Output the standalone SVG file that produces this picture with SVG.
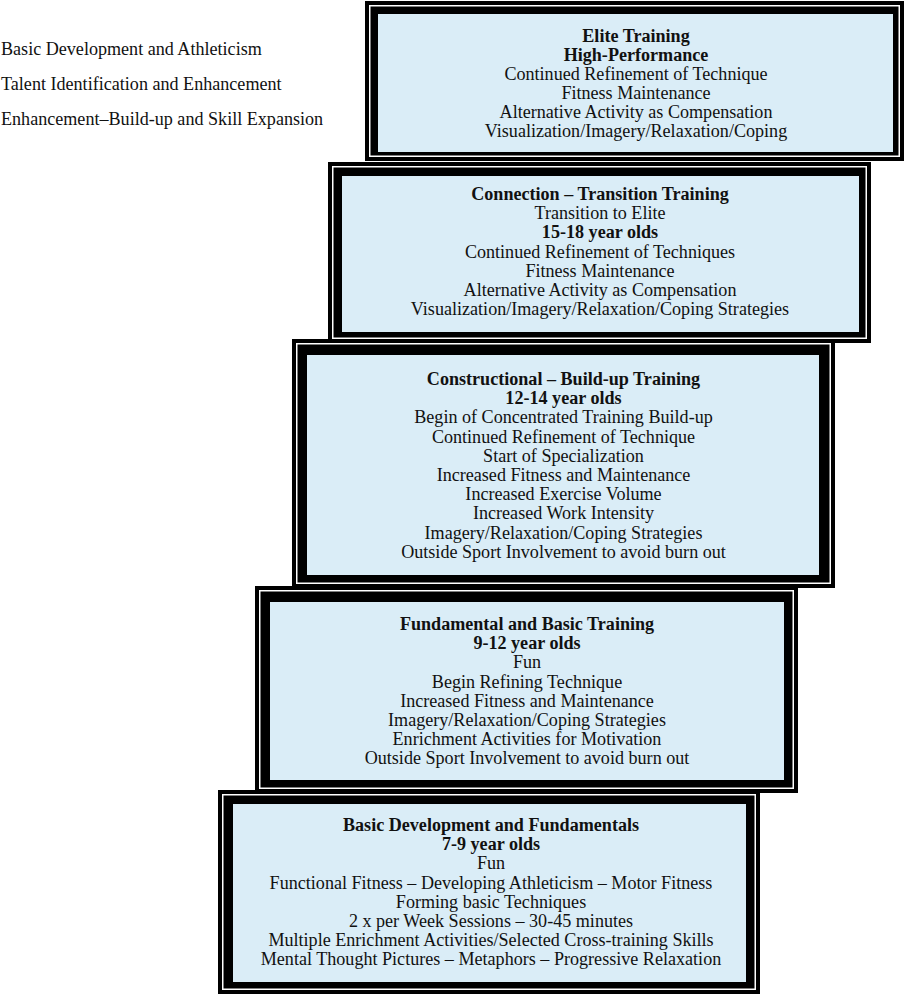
<svg xmlns="http://www.w3.org/2000/svg" width="907" height="996" viewBox="0 0 907 996">
<style>
text{font-family:"Liberation Serif","Times New Roman",serif;font-size:18.1px;fill:#111;}
.c{text-anchor:middle;}
.b{font-weight:bold;}
.o{fill:#000;}
.w{fill:#fff;}
.f{fill:#daedf7;}
</style>
<rect width="907" height="996" fill="#fff"/>
<g id="labels">
<text x="1" y="54.5">Basic Development and Athleticism</text>
<text x="1" y="89.5">Talent Identification and Enhancement</text>
<text x="1" y="124.5">Enhancement–Build-up and Skill Expansion</text>
</g>
<g id="elite">
<rect class="o" x="365" y="1" width="539" height="160"/>
<rect class="w" x="369" y="5" width="531" height="152"/>
<rect class="o" x="370.5" y="6.5" width="528" height="149"/>
<rect class="f" x="378" y="14" width="515" height="138"/>
<text class="c b" x="636" y="41.5">Elite Training</text>
<text class="c b" x="636" y="60.5">High-Performance</text>
<text class="c" x="636" y="79.7">Continued Refinement of Technique</text>
<text class="c" x="636" y="98.8">Fitness Maintenance</text>
<text class="c" x="636" y="118">Alternative Activity as Compensation</text>
<text class="c" x="636" y="137">Visualization/Imagery/Relaxation/Coping</text>
</g>
<g id="connection">
<rect class="o" x="328" y="162" width="543" height="181"/>
<rect class="w" x="332" y="166" width="535" height="173"/>
<rect class="o" x="333.5" y="167.5" width="532" height="170"/>
<rect class="f" x="342" y="176" width="517" height="156"/>
<text class="c b" x="600" y="200">Connection – Transition Training</text>
<text class="c" x="600" y="219.2">Transition to Elite</text>
<text class="c b" x="600" y="238.4">15-18 year olds</text>
<text class="c" x="600" y="257.6">Continued Refinement of Techniques</text>
<text class="c" x="600" y="276.8">Fitness Maintenance</text>
<text class="c" x="600" y="296">Alternative Activity as Compensation</text>
<text class="c" x="600" y="315.2">Visualization/Imagery/Relaxation/Coping Strategies</text>
</g>
<g id="constructional">
<rect class="o" x="292" y="339" width="543" height="249"/>
<rect class="w" x="296" y="343" width="535" height="241"/>
<rect class="o" x="297.5" y="344.5" width="532" height="238"/>
<rect class="f" x="307" y="355" width="512" height="220"/>
<text class="c b" x="563.5" y="385">Constructional – Build-up Training</text>
<text class="c b" x="563.5" y="404.2">12-14 year olds</text>
<text class="c" x="563.5" y="423.4">Begin of Concentrated Training Build-up</text>
<text class="c" x="563.5" y="442.6">Continued Refinement of Technique</text>
<text class="c" x="563.5" y="461.8">Start of Specialization</text>
<text class="c" x="563.5" y="481">Increased Fitness and Maintenance</text>
<text class="c" x="563.5" y="500.2">Increased Exercise Volume</text>
<text class="c" x="563.5" y="519.4">Increased Work Intensity</text>
<text class="c" x="563.5" y="538.6">Imagery/Relaxation/Coping Strategies</text>
<text class="c" x="563.5" y="557.8">Outside Sport Involvement to avoid burn out</text>
</g>
<g id="fundamental">
<rect class="o" x="255" y="586" width="543" height="207"/>
<rect class="w" x="259" y="590" width="535" height="199"/>
<rect class="o" x="260.5" y="591.5" width="532" height="196"/>
<rect class="f" x="270" y="602" width="514" height="178"/>
<text class="c b" x="527" y="630">Fundamental and Basic Training</text>
<text class="c b" x="527" y="649.2">9-12 year olds</text>
<text class="c" x="527" y="668.4">Fun</text>
<text class="c" x="527" y="687.6">Begin Refining Technique</text>
<text class="c" x="527" y="706.8">Increased Fitness and Maintenance</text>
<text class="c" x="527" y="726">Imagery/Relaxation/Coping Strategies</text>
<text class="c" x="527" y="745.2">Enrichment Activities for Motivation</text>
<text class="c" x="527" y="764.4">Outside Sport Involvement to avoid burn out</text>
</g>
<g id="basic">
<rect class="o" x="218" y="790" width="542" height="204"/>
<rect class="w" x="222" y="794" width="534" height="196"/>
<rect class="o" x="223.5" y="795.5" width="531" height="193"/>
<rect class="f" x="233" y="804" width="513" height="178"/>
<text class="c b" x="491" y="831">Basic Development and Fundamentals</text>
<text class="c b" x="491" y="850.2">7-9 year olds</text>
<text class="c" x="491" y="869.4">Fun</text>
<text class="c" x="491" y="888.6">Functional Fitness – Developing Athleticism – Motor Fitness</text>
<text class="c" x="491" y="907.8">Forming basic Techniques</text>
<text class="c" x="491" y="927">2 x per Week Sessions – 30-45 minutes</text>
<text class="c" x="491" y="946.2">Multiple Enrichment Activities/Selected Cross-training Skills</text>
<text class="c" x="491" y="965.4">Mental Thought Pictures – Metaphors – Progressive Relaxation</text>
</g>
<g id="connectors"></g>
</svg>
